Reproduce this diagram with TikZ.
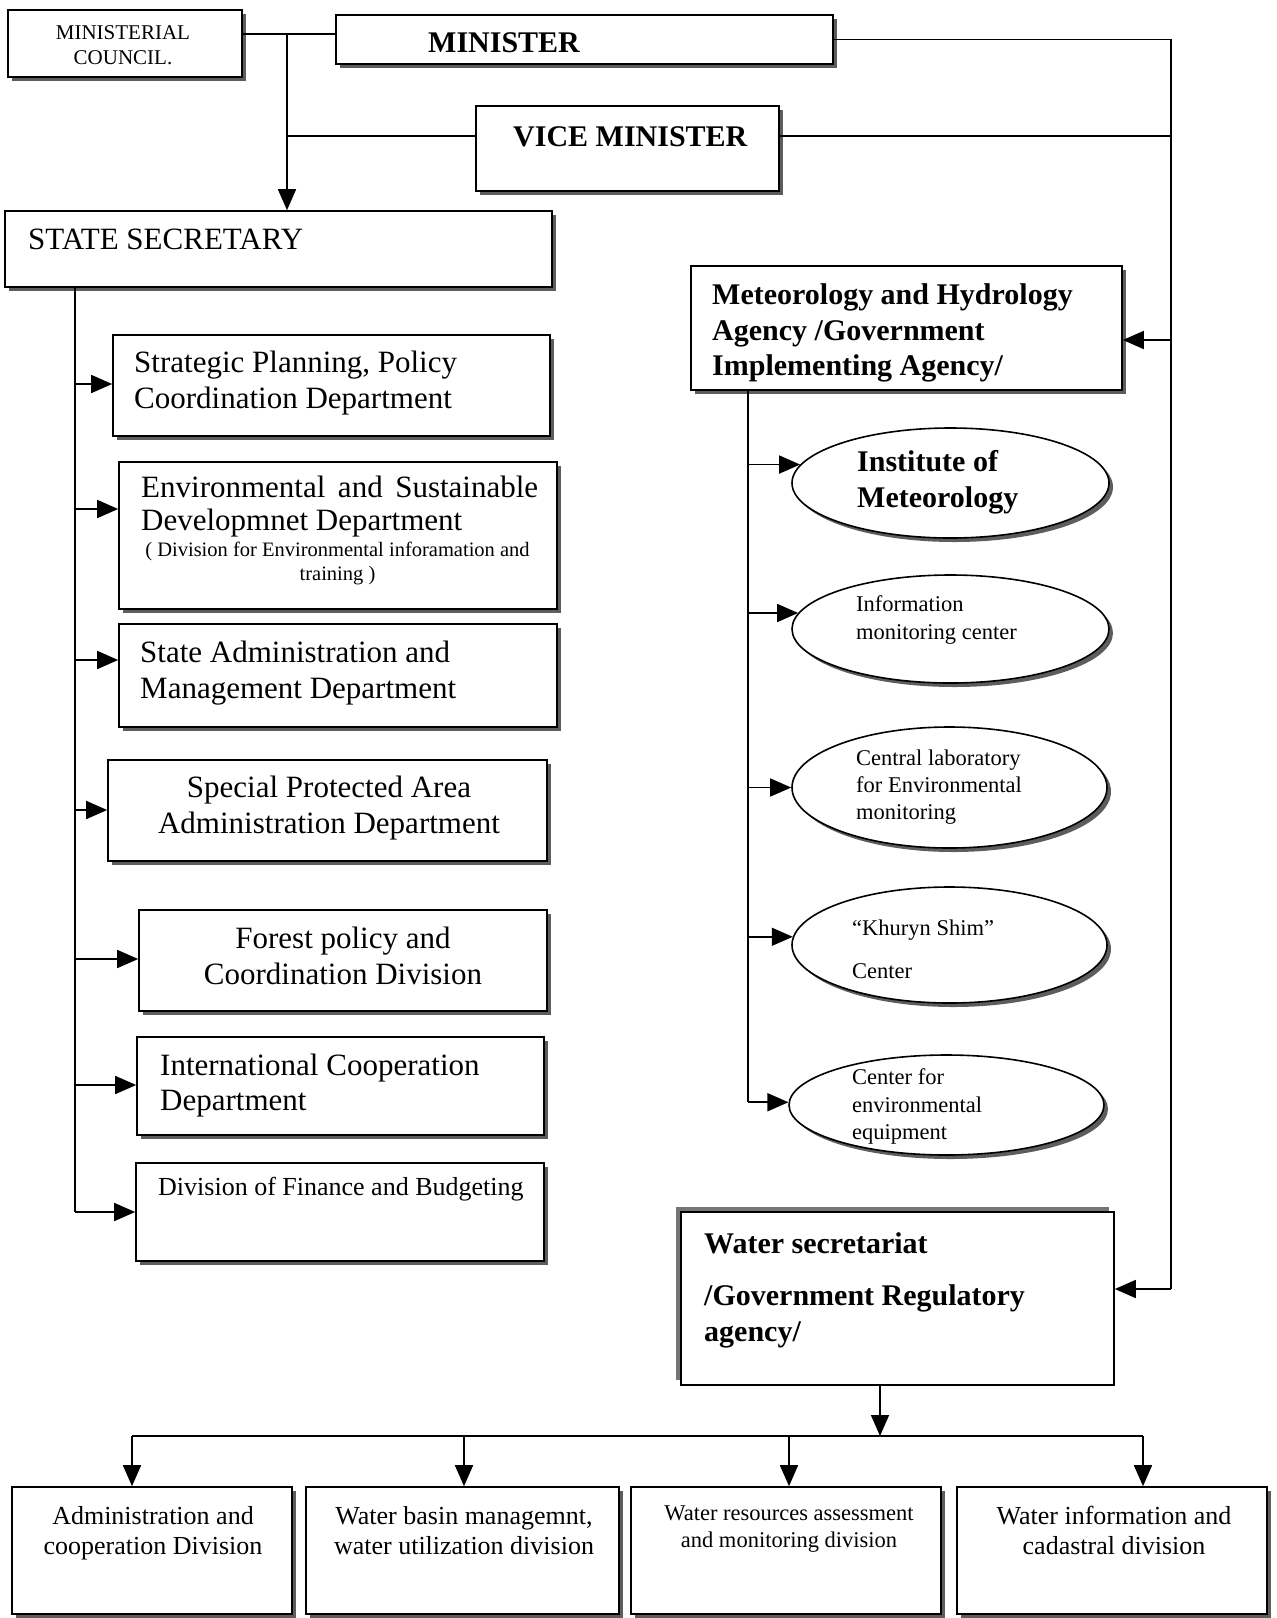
\documentclass[tikz,border=0pt]{standalone}
\usepackage{fontspec}
\setmainfont{Liberation Serif}
\usetikzlibrary{arrows.meta,shapes.geometric,shadows}
\newcommand{\fsBig}{\fontsize{31}{36}\selectfont}
\newcommand{\fsBold}{\fontsize{30}{36}\selectfont}
\newcommand{\fsMid}{\fontsize{26}{30}\selectfont}
\newcommand{\fsFin}{\fontsize{26}{30}\selectfont}
\newcommand{\fsSm}{\fontsize{22.5}{26}\selectfont}
\newcommand{\fsTiny}{\fontsize{20.5}{23}\selectfont}
\newcommand{\fsCn}{\fontsize{21}{25}\selectfont}
\tikzset{
  shd/.style={drop shadow={shadow xshift=4pt,shadow yshift=-4pt,fill=black!70,opacity=0.9}},
  box/.style={draw,fill=white,line width=1.6pt,inner sep=0pt,shd},
  ell/.style={ellipse,draw,fill=white,line width=1.6pt,inner sep=0pt,shd},
  ln/.style={line width=1.6pt},
  arr/.style={line width=1.6pt,-{Triangle[length=21pt,width=18pt]}},
  txt/.style={anchor=base west,inner sep=0pt},
  ctxt/.style={anchor=base,inner sep=0pt},
}
\begin{document}
\begin{tikzpicture}[x=1pt,y=-1pt]
\fill[white] (0,0) rectangle (1277,1618);
\useasboundingbox (0,0) rectangle (1277,1618);

% ---------- boxes ----------
\node[box,minimum width=234,minimum height=67] (cn) at (125,43.5) {};
\node[box,minimum width=497,minimum height=49] (mn) at (584.5,39.5) {};
\node[box,minimum width=303,minimum height=85] (vm) at (627.5,148.5) {};
\node[box,minimum width=547,minimum height=76] (ss) at (278.5,249) {};
\node[box,minimum width=437,minimum height=101] (b1) at (331.5,385.5) {};
\node[box,minimum width=438,minimum height=147] (b2) at (338,535.5) {};
\node[box,minimum width=438,minimum height=103] (b3) at (338,675.5) {};
\node[box,minimum width=439,minimum height=101] (b4) at (327.5,810.5) {};
\node[box,minimum width=408,minimum height=101] (b5) at (343,960.5) {};
\node[box,minimum width=407,minimum height=98] (b6) at (340.5,1086) {};
\node[box,minimum width=408,minimum height=98] (b7) at (340,1212) {};
\node[box,minimum width=431,minimum height=124] (ag) at (906.5,328) {};
\node[ell,minimum width=317,minimum height=110] (e1) at (950.5,483) {};
\node[ell,minimum width=317,minimum height=108] (e2) at (950.5,629) {};
\node[ell,minimum width=315,minimum height=121] (e3) at (949.5,787.5) {};
\node[ell,minimum width=315,minimum height=116] (e4) at (949.5,945) {};
\node[ell,minimum width=315,minimum height=100] (e5) at (946.5,1105) {};
\node[draw,fill=white,line width=1.6pt,inner sep=0pt,minimum width=433,minimum height=173,
      drop shadow={shadow xshift=-5pt,shadow yshift=5pt,fill=black!60,opacity=0.9}] (ws) at (897.5,1298.5) {};
\node[box,minimum width=280,minimum height=127] (d1) at (152,1550.5) {};
\node[box,minimum width=313,minimum height=127] (d2) at (462.5,1550.5) {};
\node[box,minimum width=310,minimum height=127] (d3) at (786,1550.5) {};
\node[box,minimum width=310,minimum height=127] (d4) at (1112,1550.5) {};

% ---------- texts ----------
\node[ctxt] (cn-1) at (123,39) {\fsCn MINISTERIAL};
\node[ctxt] (cn-2) at (123,64) {\fsCn COUNCIL.};
\node[txt] (mn-1) at (428,52) {\fsBold\bfseries MINISTER};
\node[txt] (vm-1) at (513,146) {\fsBold\bfseries VICE MINISTER};
\node[txt] (ss-1) at (28,249) {\fsBig STATE SECRETARY};
\node[txt] (b1-1) at (134,372) {\fsBig Strategic Planning, Policy};
\node[txt] (b1-2) at (134,408) {\fsBig Coordination Department};
\node[txt] (b2-1) at (141,497) {\fsBig\makebox[397pt][s]{Environmental\hfill and\hfill Sustainable}};
\node[txt] (b2-2) at (141,530) {\fsBig Developmnet Department};
\node[ctxt] (b2-3) at (337.5,556) {\fsTiny ( Division for Environmental inforamation and};
\node[ctxt] (b2-4) at (337.5,580) {\fsTiny training )};
\node[txt] (b3-1) at (140,662) {\fsBig State Administration and};
\node[txt] (b3-2) at (140,698) {\fsBig Management Department};
\node[ctxt] (b4-1) at (329,797) {\fsBig Special Protected Area};
\node[ctxt] (b4-2) at (329,833) {\fsBig Administration Department};
\node[ctxt] (b5-1) at (343,948) {\fsBig Forest policy and};
\node[ctxt] (b5-2) at (343,984) {\fsBig Coordination Division};
\node[txt] (b6-1) at (160,1075) {\fsBig International Cooperation};
\node[txt] (b6-2) at (160,1110) {\fsBig Department};
\node[txt] (b7-1) at (158,1195) {\fsFin Division of Finance and Budgeting};
\node[txt] (ag-1) at (712,304) {\fsBold\bfseries Meteorology and Hydrology};
\node[txt] (ag-2) at (712,340) {\fsBold\bfseries Agency /Government};
\node[txt] (ag-3) at (712,375) {\fsBold\bfseries Implementing Agency/};
\node[txt] (e1-1) at (857,471) {\fsBold\bfseries Institute of};
\node[txt] (e1-2) at (857,507) {\fsBold\bfseries Meteorology};
\node[txt] (e2-1) at (856,611) {\fsSm Information};
\node[txt] (e2-2) at (856,639) {\fsSm monitoring center};
\node[txt] (e3-1) at (856,765) {\fsSm Central laboratory};
\node[txt] (e3-2) at (856,792) {\fsSm for Environmental};
\node[txt] (e3-3) at (856,819) {\fsSm monitoring};
\node[txt] (e4-1) at (852,935) {\fsSm “Khuryn Shim”};
\node[txt] (e4-2) at (852,978) {\fsSm Center};
\node[txt] (e5-1) at (852,1084) {\fsSm Center for};
\node[txt] (e5-2) at (852,1112) {\fsSm environmental};
\node[txt] (e5-3) at (852,1139) {\fsSm equipment};
\node[txt] (ws-1) at (704,1253) {\fsBold\bfseries Water secretariat};
\node[txt] (ws-2) at (704,1305) {\fsBold\bfseries /Government Regulatory};
\node[txt] (ws-3) at (704,1341) {\fsBold\bfseries agency/};
\node[ctxt] (d1-1) at (153,1524) {\fsMid Administration and};
\node[ctxt] (d1-2) at (153,1554) {\fsMid cooperation Division};
\node[ctxt] (d2-1) at (464,1524) {\fsMid Water basin managemnt,};
\node[ctxt] (d2-2) at (464,1554) {\fsMid water utilization division};
\node[ctxt] (d3-1) at (789,1520) {\fsSm Water resources assessment};
\node[ctxt] (d3-2) at (789,1547) {\fsSm and monitoring division};
\node[ctxt] (d4-1) at (1114,1524) {\fsMid Water information and};
\node[ctxt] (d4-2) at (1114,1554) {\fsMid cadastral division};

% ---------- top connectors ----------
\coordinate (cm) at (287,34);
\coordinate (vmL) at (287,136);
\coordinate (vmR) at (779,136);
\coordinate (rbot) at (1171,1289);
\coordinate (agR) at (1171,340);
\draw[ln] (cn.east |- cm) -- (mn.west |- cm);
\draw[arr] (cm) -- (cm |- ss.north);
\draw[ln] (vmL) -- (vm.west |- vmL);
\draw[ln] (mn.east) -- (mn.east -| rbot) -- (rbot);
\draw[ln] (vmR) -- (vmR -| rbot);
\draw[arr] (agR) -- (agR -| ag.east);
\draw[arr] (rbot) -- (rbot -| ws.east);

% ---------- left trunk ----------
\coordinate (lt) at (75,287);
\coordinate (a1) at (75,384);
\coordinate (a2) at (75,509);
\coordinate (a3) at (75,660);
\coordinate (a4) at (75,810);
\coordinate (a5) at (75,959);
\coordinate (a6) at (75,1085);
\coordinate (a7) at (75,1212);
\draw[ln] (lt) -- (a7);
\draw[arr] (a1) -- (a1 -| b1.west);
\draw[arr] (a2) -- (a2 -| b2.west);
\draw[arr] (a3) -- (a3 -| b3.west);
\draw[arr] (a4) -- (a4 -| b4.west);
\draw[arr] (a5) -- (a5 -| b5.west);
\draw[arr] (a6) -- (a6 -| b6.west);
\draw[arr] (a7) -- (a7 -| b7.west);

% ---------- right trunk ----------
\coordinate (rt) at (748,390);
\draw[ln] (rt) -- (rt |- e5.179);
\draw[arr] (rt |- e1.173) -- (e1.173);
\draw[arr] (rt |- e2.174) -- (e2.174);
\draw[arr] (rt |- e3.180) -- (e3.180);
\draw[arr] (rt |- e4.177) -- (e4.177);
\draw[arr] (rt |- e5.179) -- (e5.179);

% ---------- water bus ----------
\coordinate (bM) at (880,1436);
\coordinate (bA) at (132,1436);
\coordinate (bB) at (464,1436);
\coordinate (bC) at (789,1436);
\coordinate (bD) at (1143,1436);
\draw[arr] (ws.south -| bM) -- (bM);
\draw[ln] (bA) -- (bD);
\draw[arr] (bA) -- (bA |- d1.north);
\draw[arr] (bB) -- (bB |- d2.north);
\draw[arr] (bC) -- (bC |- d3.north);
\draw[arr] (bD) -- (bD |- d4.north);
\end{tikzpicture}
\end{document}
